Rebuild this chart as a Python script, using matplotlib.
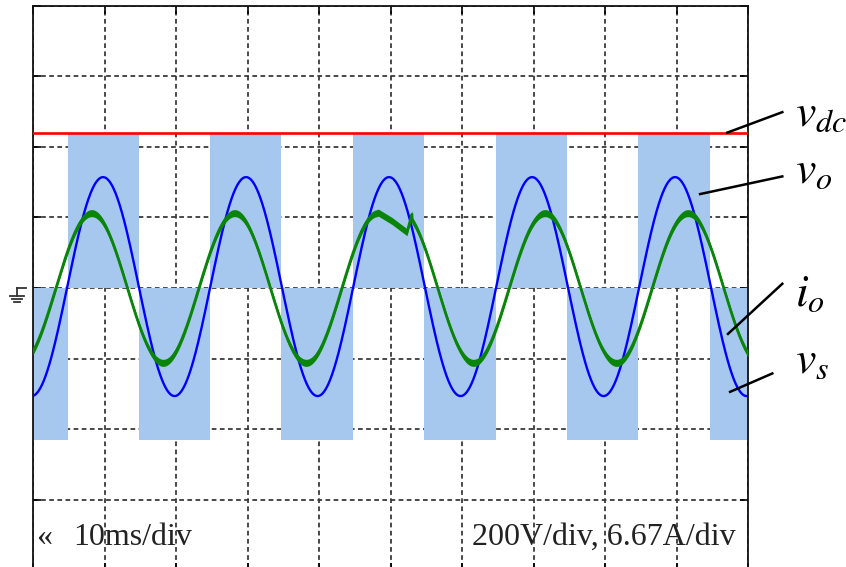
import numpy as np
import matplotlib
matplotlib.use('Agg')
import matplotlib.pyplot as plt
from matplotlib.lines import Line2D

plt.rcParams['mathtext.fontset'] = 'stix'

# --- values (x in ms, y in divisions) ---
period_ms = 20.0
vdc_level = 2.2

vs_edges = [0, 4.9, 14.8, 24.7, 34.7, 44.7, 54.7, 64.7, 74.7, 84.6, 94.7, 100]
vs_levels = [-2.15, 2.2, -2.15, 2.2, -2.15, 2.2, -2.15, 2.2, -2.15, 2.2, -2.15]

vo_amp = 1.55
vo_offset = 0.02
vo_peak_ms = 9.8

io_amp = 1.06
io_peak_before = 8.2
io_peak_after = 11.6
io_glitch_t = [48.25, 50.2, 52.3, 53.0]
io_glitch_y = [1.07, 0.95, 0.79, 1.045]

labels = [r'$v_{dc}$', r'$v_o$', r'$i_o$', r'$v_s$']
label_y = [2.29, 1.48, -0.25, -1.21]
leader_from = [(104.8, 2.49), (104.8, 1.58), (104.8, 0.06), (103.4, -1.21)]
leader_to = [(97.1, 2.20), (93.3, 1.33), (97.2, -0.65), (97.5, -1.47)]

fig = plt.figure(figsize=(8.46, 5.67), dpi=100)
ax = fig.add_axes([33 / 846, -3.5 / 567, 715 / 846, 565 / 567])

# square wave vs as filled bars
widths = np.diff(vs_edges)
ax.bar(vs_edges[:-1], vs_levels, width=widths, bottom=0, align='edge',
       color='#a6c8ee', linewidth=0, zorder=1)

t = np.linspace(0, 100, 2001)
w = 2 * np.pi / period_ms

ax.plot([0, 100], [vdc_level, vdc_level], color='#ff0000', lw=1.9, zorder=4)

vo = vo_offset + vo_amp * np.cos(w * (t - vo_peak_ms))
ax.plot(t, vo, color='#0000ff', lw=1.7, zorder=3)

t1 = t[t < io_glitch_t[0]]
t2 = t[t > io_glitch_t[-1]]
io_t = np.concatenate([t1, io_glitch_t, t2])
io = np.concatenate([io_amp * np.cos(w * (t1 - io_peak_before)),
                     io_glitch_y,
                     io_amp * np.cos(w * (t2 - io_peak_after))])
ax.fill_between(io_t, io - 0.05, io + 0.05, color='#0a850a', lw=0, zorder=3)
ax.plot(io_t, io, color='#0a850a', lw=1.9, zorder=3)

ax.set_xlim(0, 100)
ax.set_ylim(-4, 4)
ax.set_xticks(np.arange(0, 101, 10))
ax.set_yticks(np.arange(-4, 5, 1))
ax.set_xticklabels([])
ax.set_yticklabels([])
ax.tick_params(direction='in', length=6, width=1.2, top=True, right=True, bottom=True, left=True)
ax.set_axisbelow(True)
ax.grid(True, color='#3a3a3a', lw=1.3, linestyle=(0, (2.6, 1.9)))
for s in ax.spines.values():
    s.set_linewidth(1.3)
    s.set_color('#111111')

# annotations
tfont = dict(family='Liberation Serif', fontsize=23, color='#222222')
ax.text(0.4, -3.64, '\u00ab', va='baseline', ha='left', **tfont)
ax.text(5.6, -3.64, '10ms/div', va='baseline', ha='left', **tfont)
ax.text(61.4, -3.64, '200V/div, 6.67A/div', va='baseline', ha='left', **tfont)

for lab, ly, p0, p1 in zip(labels, label_y, leader_from, leader_to):
    ax.plot([p0[0], p1[0]], [p0[1], p1[1]], color='black', lw=1.8,
            clip_on=False, zorder=6)
    ax.text(106.6, ly, lab, fontsize=33, va='baseline', ha='left', clip_on=False)

# ground marker on the left
H = 567
gnd = [((17, 26), (288, 288)), ((17, 17), (288, 296)),
       ((10, 24), (296, 296)), ((12, 22), (299, 299)), ((14, 20), (302, 302))]
for xs, ys in gnd:
    fig.add_artist(Line2D(xs, [H - y for y in ys], transform=None,
                          color='#333333', lw=1.3))

fig.savefig('out.png', dpi=100)
